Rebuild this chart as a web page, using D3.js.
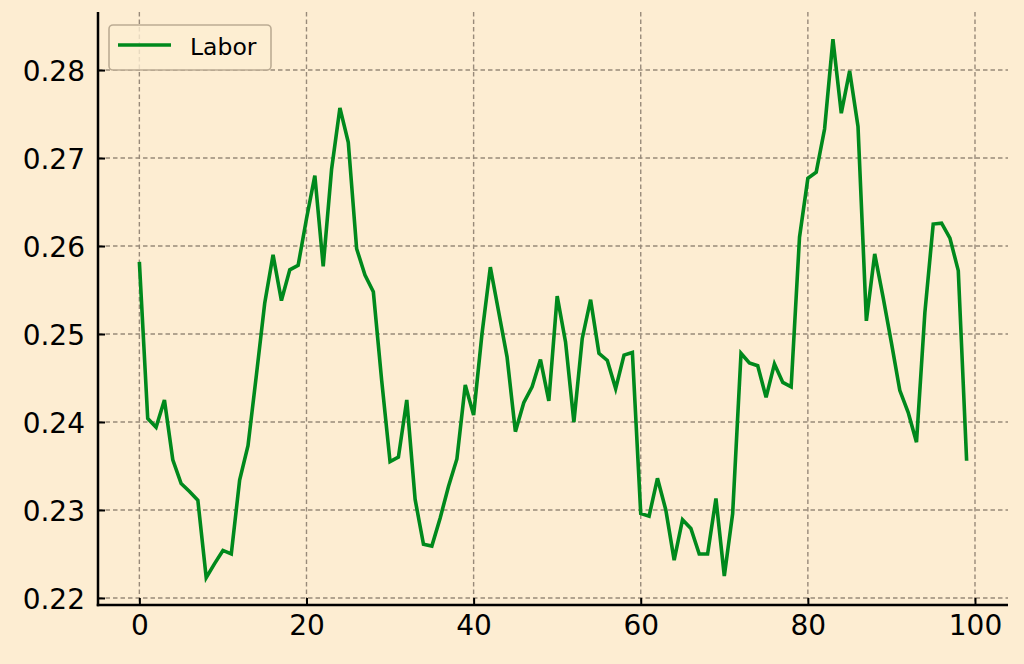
<!DOCTYPE html>
<html>
<head>
<meta charset="utf-8">
<script src="https://cdn.jsdelivr.net/npm/d3@7"></script>
<style>
  html, body { margin: 0; padding: 0; background: #fdedd2; }
  svg { display: block; }
  text { font-family: "DejaVu Sans", sans-serif; }
</style>
</head>
<body>
<svg id="chart" width="1024" height="664"></svg>
<script>
const seriesName = "Labor";
const xValues = d3.range(100);
const laborValues = [
  0.2582, 0.2404, 0.2394, 0.2425, 0.2357, 0.2330, 0.2321, 0.2311, 0.2223, 0.2239,
  0.2254, 0.2250, 0.2334, 0.2373, 0.2453, 0.2535, 0.2590, 0.2538, 0.2573, 0.2578,
  0.2631, 0.2680, 0.2577, 0.2687, 0.2757, 0.2718, 0.2597, 0.2567, 0.2548, 0.2447,
  0.2355, 0.2360, 0.2425, 0.2312, 0.2261, 0.2259, 0.2291, 0.2327, 0.2358, 0.2442,
  0.2408, 0.2500, 0.2576, 0.2525, 0.2474, 0.2389, 0.2422, 0.2440, 0.2471, 0.2424,
  0.2543, 0.2491, 0.2400, 0.2495, 0.2539, 0.2478, 0.2470, 0.2438, 0.2476, 0.2479,
  0.2296, 0.2293, 0.2336, 0.2300, 0.2243, 0.2289, 0.2279, 0.2250, 0.2250, 0.2313,
  0.2225, 0.2296, 0.2478, 0.2467, 0.2464, 0.2428, 0.2466, 0.2445, 0.2440, 0.2610,
  0.2677, 0.2684, 0.2733, 0.2835, 0.2751, 0.2799, 0.2736, 0.2515, 0.2591, 0.2542,
  0.2490, 0.2436, 0.2411, 0.2377, 0.2524, 0.2625, 0.2626, 0.2609, 0.2572, 0.2356
];
const xTicks = [0, 20, 40, 60, 80, 100];
const yTicks = [0.22, 0.23, 0.24, 0.25, 0.26, 0.27, 0.28];

const svg = d3.select("#chart");
const plotLeft = 98, plotRight = 1008, plotTop = 12, plotBottom = 605;

const x = d3.scaleLinear().domain([-4.95, 103.95]).range([plotLeft, plotRight]);
const y = d3.scaleLinear().domain([0.2192, 0.2866]).range([plotBottom, plotTop]);

svg.append("rect").attr("width", 1024).attr("height", 664).attr("fill", "#fdedd2");

// grid
const grid = svg.append("g").attr("stroke", "#988a7a").attr("stroke-width", 1.4)
  .attr("stroke-dasharray", "4.5,3");
grid.selectAll("line.v").data(xTicks).join("line").attr("class", "v")
  .attr("x1", d => x(d)).attr("x2", d => x(d)).attr("y1", plotTop).attr("y2", plotBottom);
grid.selectAll("line.h").data(yTicks).join("line").attr("class", "h")
  .attr("x1", plotLeft).attr("x2", plotRight).attr("y1", d => y(d)).attr("y2", d => y(d));

// line
const line = d3.line().x((d, i) => x(xValues[i])).y(d => y(d));
svg.append("path").datum(laborValues).attr("d", line)
  .attr("fill", "none").attr("stroke", "#00891c").attr("stroke-width", 3.6)
  .attr("stroke-linejoin", "miter").attr("stroke-linecap", "butt");

// axes
const xAxis = d3.axisBottom(x).tickValues(xTicks).tickFormat(d3.format("d"))
  .tickSize(-7).tickPadding(10);
const yAxis = d3.axisLeft(y).tickValues(yTicks).tickFormat(d3.format(".2f"))
  .tickSize(-7).tickPadding(13);

const gx = svg.append("g").attr("transform", `translate(0,${plotBottom})`).call(xAxis);
const gy = svg.append("g").attr("transform", `translate(${plotLeft},0)`).call(yAxis);
[gx, gy].forEach(g => {
  g.select(".domain").remove();
  g.selectAll(".tick line").attr("stroke", "#000").attr("stroke-width", 2);
  g.selectAll(".tick text").attr("fill", "#000").style("font-size", "28px")
    .style("font-family", "'DejaVu Sans', sans-serif");
});
gy.selectAll(".tick text").attr("dy", "0.36em");

// spines
svg.append("line").attr("x1", plotLeft).attr("x2", plotLeft).attr("y1", plotTop).attr("y2", plotBottom + 1.25)
  .attr("stroke", "#000").attr("stroke-width", 2.5);
svg.append("line").attr("x1", plotLeft - 1.25).attr("x2", plotRight).attr("y1", plotBottom).attr("y2", plotBottom)
  .attr("stroke", "#000").attr("stroke-width", 2.5);

// legend
const lg = svg.append("g");
lg.append("rect").attr("x", 109).attr("y", 25).attr("width", 162).attr("height", 45)
  .attr("rx", 4).attr("fill", "#fdedd2").attr("fill-opacity", 0.8)
  .attr("stroke", "#bcac94").attr("stroke-width", 1.6);
lg.append("line").attr("x1", 118).attr("x2", 171).attr("y1", 45).attr("y2", 45)
  .attr("stroke", "#00891c").attr("stroke-width", 3.6);
lg.append("text").attr("x", 190).attr("y", 55).text(seriesName)
  .style("font-size", "23.5px").attr("fill", "#000");
</script>
</body>
</html>
